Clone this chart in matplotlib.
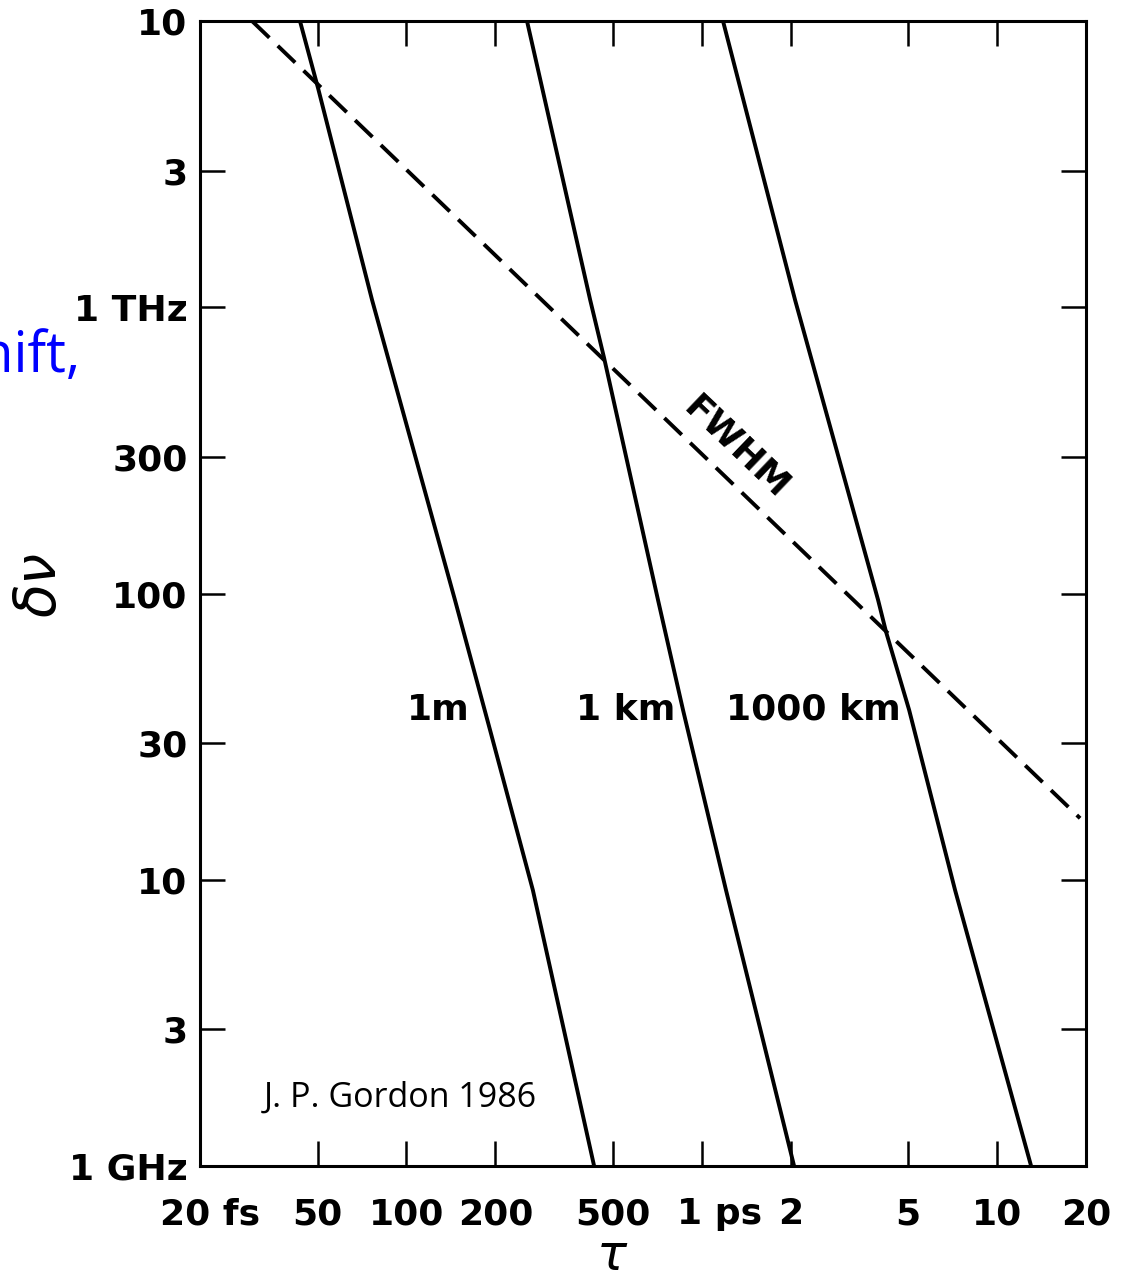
import matplotlib.pyplot as plt
import matplotlib.transforms as mtransforms
from matplotlib.ticker import FixedLocator, FixedFormatter, NullLocator, NullFormatter

# ---------------------------------------------------------------
# Data: pulse width tau [fs], shift dnu [GHz]
# ---------------------------------------------------------------
TAU_1M = [43.6, 50.2, 76.5, 146, 192, 268, 432]
DNU_1M = [10000, 5830, 1060, 94.9, 33.3, 9.2, 1.0]

TAU_1KM = [256, 419, 467, 711, 864, 1208, 2054]
DNU_1KM = [10000, 1060, 665, 94.9, 39.2, 9.2, 1.0]

TAU_1000KM = [1180, 2070, 3954, 4208, 5036, 7206, 13036]
DNU_1000KM = [10000, 1060, 94.9, 73.4, 39.2, 9.2, 1.0]

TAU_FWHM = [30, 19100]
DNU_FWHM = [10000, 16.4]

X_TICKS = [20, 50, 100, 200, 500, 1000, 2000, 5000, 10000, 20000]
X_TICKLABELS = ["20 fs", "50", "100", "200", "500", "1 ps", "2", "5", "10", "20"]
Y_TICKS = [1, 3, 10, 30, 100, 300, 1000, 3000, 10000]
Y_TICKLABELS = ["1 GHz", "3", "10", "30", "100", "300", "1 THz", "3", "10"]

CURVE_LABELS = ["1m", "1 km", "1000 km"]
CURVE_LABEL_X = [128, 554, 2382]
LABEL_Y = 39.2

plt.rcParams.update({"font.family": "DejaVu Sans"})

W, H = 1128, 1280
fig = plt.figure(figsize=(W / 100, H / 100), dpi=100)
ax = fig.add_axes([200 / W, 1 - 1166 / H, 886 / W, 1145 / H])

lw = 2.8
for tau, dnu in [(TAU_1M, DNU_1M), (TAU_1KM, DNU_1KM), (TAU_1000KM, DNU_1000KM)]:
    ax.plot(tau, dnu, color="black", linewidth=lw, solid_capstyle="butt")
ax.plot(TAU_FWHM, DNU_FWHM, color="black", linewidth=lw,
        dashes=(6.2, 3.0), dash_capstyle="butt")

ax.set_xscale("log")
ax.set_yscale("log")
ax.set_xlim(20, 20000)
ax.set_ylim(1, 10000)

ax.xaxis.set_major_locator(FixedLocator(X_TICKS))
ax.xaxis.set_major_formatter(NullFormatter())
ax.yaxis.set_major_locator(FixedLocator(Y_TICKS))
ax.yaxis.set_major_formatter(FixedFormatter(Y_TICKLABELS))
ax.xaxis.set_minor_locator(NullLocator())
ax.yaxis.set_minor_locator(NullLocator())

ax.tick_params(which="major", direction="in", top=True, right=True,
               length=18, width=1.8, labelsize=26)
ax.tick_params(axis="y", pad=9)
for lab in ax.get_yticklabels():
    lab.set_fontweight("bold")

for sp in ax.spines.values():
    sp.set_linewidth(2.2)

# x tick labels drawn by hand ("20 fs" and "1 ps" sit a bit right of the tick)
xtrans = mtransforms.blended_transform_factory(ax.transData, ax.transAxes)
for val, txt in zip(X_TICKS, X_TICKLABELS):
    shift = 0
    if txt == "20 fs":
        shift = 10
    elif txt == "1 ps":
        shift = 18
    tr = xtrans + mtransforms.ScaledTranslation(shift / 100, 0, fig.dpi_scale_trans)
    ax.text(val, -0.0507, txt, transform=tr, ha="center", va="baseline",
            fontsize=26, fontweight="bold", clip_on=False)

# curve labels
for txt, x in zip(CURVE_LABELS, CURVE_LABEL_X):
    ax.text(x, LABEL_Y, txt, ha="center", va="center", fontsize=26,
            fontweight="bold")

ax.text(1306, 322, "FWHM", ha="center", va="center", fontsize=26,
        fontweight="bold", rotation=-43.7, rotation_mode="anchor")

ax.text(95, 1.728, "J. P. Gordon 1986", ha="center", va="center",
        fontsize=24.5, family="Open Sans")

# axis symbols
ax.text(0.465, -0.079, r"$\tau$", transform=ax.transAxes, fontsize=36,
        ha="center", va="center")
ax.text(-0.179, 0.507, r"$\delta\nu$", transform=ax.transAxes, fontsize=40,
        ha="center", va="center", rotation=90)

# slide text clipped at the left edge
fig.text(80 / W, 1 - 372 / H, "shift,", ha="right", va="baseline",
         fontsize=40, color="#0000ff", family="Open Sans")

fig.savefig("out.png", dpi=100, facecolor="white")
